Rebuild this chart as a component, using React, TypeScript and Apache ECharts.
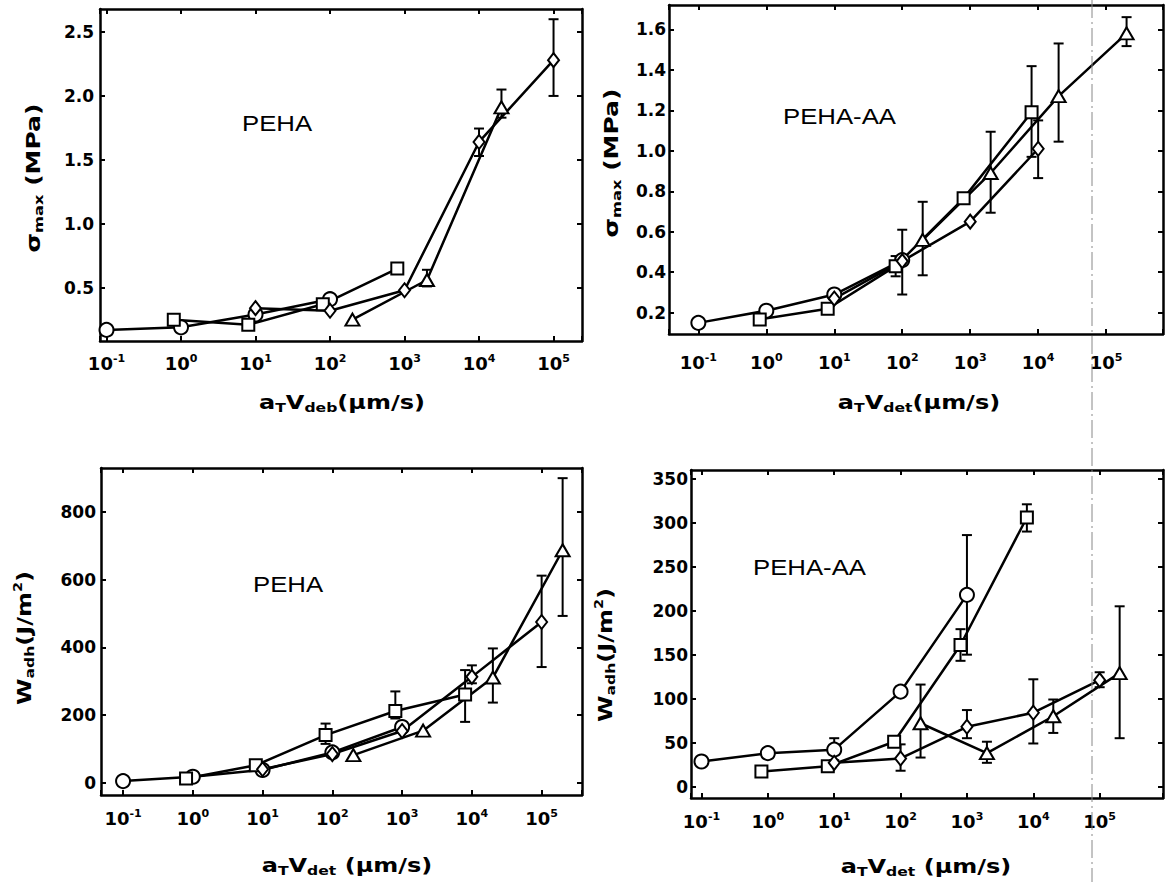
import React, { useEffect, useRef } from 'react';
import * as echarts from 'echarts';

// ---------- Panel 1: PEHA, sigma_max (MPa) ----------
const p1Circle = [[0.1, 0.17], [1, 0.19], [10, 0.29], [100, 0.41]];
const p1Square = [[0.8, 0.25], [8, 0.21], [80, 0.37], [800, 0.65]];
const p1Diamond = [[10, 0.34], [100, 0.32], [1000, 0.48], [10000, 1.64], [100000, 2.28]];
const p1Triangle = [[200, 0.25], [2000, 0.56], [20000, 1.91]];
const p1Err = [[800, 0.62, 0.69], [2000, 0.51, 0.64], [10000, 1.53, 1.745], [20000, 1.83, 2.05], [100000, 2.0, 2.6]];
const p1YTicks = [0.5, 1.0, 1.5, 2.0, 2.5];

// ---------- Panel 2: PEHA-AA, sigma_max (MPa) ----------
const p2Circle = [[0.1, 0.15], [1, 0.21], [10, 0.29], [100, 0.46]];
const p2Square = [[0.8, 0.167], [8, 0.22], [80, 0.43], [800, 0.765], [8000, 1.19]];
const p2Diamond = [[10, 0.27], [100, 0.455], [1000, 0.65], [10000, 1.01]];
const p2Triangle = [[200, 0.56], [2000, 0.89], [20000, 1.27], [200000, 1.58]];
const p2Err = [[100, 0.29, 0.61], [80, 0.38, 0.48], [200, 0.385, 0.748], [2000, 0.694, 1.094], [8000, 0.97, 1.418], [10000, 0.865, 1.15], [20000, 1.045, 1.53], [200000, 1.517, 1.66]];
const p2YTicks = [0.2, 0.4, 0.6, 0.8, 1.0, 1.2, 1.4, 1.6];

// ---------- Panel 3: PEHA, W_adh (J/m2) ----------
const p3Circle = [[0.1, 5], [1, 18], [10, 38], [100, 90], [1000, 165]];
const p3Square = [[0.8, 13], [8, 52], [80, 141], [800, 212], [8000, 261]];
const p3Diamond = [[10, 40], [100, 85], [1000, 153], [10000, 313], [100000, 475]];
const p3Triangle = [[200, 82], [2000, 154], [20000, 311], [200000, 687]];
const p3Err = [[80, 115, 175], [800, 190, 270], [8000, 180, 333], [10000, 294, 347], [20000, 237, 397], [100000, 342, 612], [200000, 493, 900]];
const p3YTicks = [0, 200, 400, 600, 800];

// ---------- Panel 4: PEHA-AA, W_adh (J/m2) ----------
const p4Circle = [[0.1, 28.5], [1, 38], [10, 42], [100, 108], [1000, 218]];
const p4Square = [[0.8, 17], [8, 23], [80, 51], [800, 161], [8000, 306]];
const p4Diamond = [[10, 27], [100, 32], [1000, 68], [10000, 84], [100000, 121]];
const p4Triangle = [[200, 72], [2000, 38], [20000, 80], [200000, 129]];
const p4Err = [[10, 30, 55], [100, 103, 114], [1000, 150, 286], [800, 143, 179], [8000, 290, 321], [100, 18, 48], [1000, 55, 87], [10000, 49, 122], [100000, 113, 130], [200, 33, 116], [2000, 27, 51], [20000, 61, 99], [200000, 55, 205]];
const p4YTicks = [0, 50, 100, 150, 200, 250, 300, 350];

const FONT = 'DejaVu Sans';

const panels = [
  { grid: { left: 100, top: 9, width: 482, height: 332 }, xMin: 0.0818, xMax: 241000, yMin: 0.083, yMax: 2.68, yTicks: p1YTicks, dec: 1, data: [p1Circle, p1Square, p1Diamond, p1Triangle], err: p1Err, xMargin: 12, yMargin: 6 },
  { grid: { left: 669, top: 5, width: 495, height: 329 }, xMin: 0.037, xMax: 687000, yMin: 0.095, yMax: 1.72, yTicks: p2YTicks, dec: 1, data: [p2Circle, p2Square, p2Diamond, p2Triangle], err: p2Err, xMargin: 18, yMargin: 3 },
  { grid: { left: 101, top: 468, width: 481, height: 327 }, xMin: 0.0483, xMax: 379000, yMin: -36, yMax: 930, yTicks: p3YTicks, dec: 0, data: [p3Circle, p3Square, p3Diamond, p3Triangle], err: p3Err, xMargin: 13, yMargin: 5 },
  { grid: { left: 691, top: 470, width: 473, height: 328 }, xMin: 0.0695, xMax: 900000, yMin: -13, yMax: 360, yTicks: p4YTicks, dec: 0, data: [p4Circle, p4Square, p4Diamond, p4Triangle], err: p4Err, xMargin: 13, yMargin: 3 },
];

const symbols: any[] = [
  { symbol: 'circle', size: 14 },
  { symbol: 'rect', size: 12 },
  { symbol: 'diamond', size: [11, 14] },
  { symbol: 'triangle', size: [14, 12] },
];

const logLabel = (v: number) => {
  const e = Math.log10(v);
  const r = Math.round(e);
  if (Math.abs(e - r) > 1e-6) return '';
  return `{b|10}{e|${r}}`;
};

const axisLineStyle = { color: '#000', width: 2.5 };
const tickStyle = { show: true, inside: true, length: 5, lineStyle: { color: '#000', width: 2 } };

export default function App() {
  const ref = useRef<HTMLDivElement>(null);
  useEffect(() => {
    if (!ref.current) return;
    const chart = echarts.init(ref.current, undefined, { renderer: 'svg' });
    const xAxis: any[] = [];
    const yAxis: any[] = [];
    const series: any[] = [];
    panels.forEach((p, i) => {
      xAxis.push({
        gridIndex: i, type: 'log', logBase: 10, min: p.xMin, max: p.xMax, splitNumber: 7,
        axisLine: { show: true, onZero: false, lineStyle: axisLineStyle },
        axisTick: tickStyle, splitLine: { show: false },
        axisLabel: {
          formatter: logLabel, margin: p.xMargin, color: '#000', hideOverlap: false,
          rich: {
            b: { fontFamily: FONT, fontWeight: 'bold', fontSize: 18, lineHeight: 20, color: '#000' },
            e: { fontFamily: FONT, fontWeight: 'bold', fontSize: 11, lineHeight: 11, verticalAlign: 'top', color: '#000' },
          },
        },
      });
      yAxis.push({
        gridIndex: i, type: 'value', min: p.yMin, max: p.yMax,
        axisLine: { show: true, onZero: false, lineStyle: axisLineStyle },
        axisTick: { ...tickStyle, customValues: p.yTicks }, splitLine: { show: false },
        axisLabel: {
          customValues: p.yTicks, margin: p.yMargin, color: '#000',
          fontFamily: FONT, fontWeight: 'bold', fontSize: 17,
          formatter: (v: number) => v.toFixed(p.dec),
        },
      });
    });
    panels.forEach((p, i) => {
      xAxis.push({
        gridIndex: i, type: 'log', logBase: 10, min: p.xMin, max: p.xMax, splitNumber: 7, position: 'top',
        axisLine: { show: true, onZero: false, lineStyle: axisLineStyle },
        axisTick: tickStyle, splitLine: { show: false }, axisLabel: { show: false },
      });
      yAxis.push({
        gridIndex: i, type: 'value', min: p.yMin, max: p.yMax, position: 'right',
        axisLine: { show: true, onZero: false, lineStyle: axisLineStyle },
        axisTick: { ...tickStyle, customValues: p.yTicks }, splitLine: { show: false },
        axisLabel: { show: false },
      });
    });
    panels.forEach((p, i) => {
      series.push({
        type: 'custom', xAxisIndex: i, yAxisIndex: i, z: 1, silent: true,
        data: p.err, encode: { x: 0, y: [1, 2] },
        renderItem: (params: any, api: any) => {
          const x = api.value(0), lo = api.value(1), hi = api.value(2);
          const a = api.coord([x, lo]);
          const b = api.coord([x, hi]);
          const w = 5;
          const style = { stroke: '#000', lineWidth: 2 };
          return {
            type: 'group', children: [
              { type: 'line', shape: { x1: a[0], y1: a[1], x2: b[0], y2: b[1] }, style },
              { type: 'line', shape: { x1: a[0] - w, y1: a[1], x2: a[0] + w, y2: a[1] }, style },
              { type: 'line', shape: { x1: b[0] - w, y1: b[1], x2: b[0] + w, y2: b[1] }, style },
            ],
          };
        },
      });
      p.data.forEach((d, k) => {
        series.push({
          type: 'line', xAxisIndex: i, yAxisIndex: i, z: 3, data: d,
          symbol: symbols[k].symbol, symbolSize: symbols[k].size, showAllSymbol: true,
          lineStyle: { color: '#000', width: 2.5 },
          itemStyle: { color: '#fff', borderColor: '#000', borderWidth: 2 },
          emphasis: { disabled: true }, silent: true,
        });
      });
    });

    const nameRich = {
      n: { fontFamily: FONT, fontWeight: 'bold', fontSize: 20, lineHeight: 24, fill: '#000' },
      s: { fontFamily: FONT, fontWeight: 'bold', fontSize: 13, lineHeight: 10, verticalAlign: 'bottom', fill: '#000' },
      p: { fontFamily: FONT, fontWeight: 'bold', fontSize: 12, lineHeight: 10, verticalAlign: 'top', fill: '#000' },
    };
    const txt = (x: number, y: number, text: string, rot = 0, sx = 1.2) => ({
      type: 'text', x, y, rotation: rot, scaleX: sx, z: 50,
      style: { text, rich: nameRich, textAlign: 'center', textVerticalAlign: 'middle', fill: '#000', font: `bold 20px ${FONT}` },
    });
    const ann = (x: number, y: number, text: string) => ({
      type: 'text', x, y, scaleX: 1.12, z: 50,
      style: { text, fill: '#000', font: '23px "Liberation Sans"', textAlign: 'left', textVerticalAlign: 'middle' },
    });
    const sigma = '{n|σ}{s|max}{n| (MPa)}';
    const wadh = '{n|W}{s|adh}{n|(J/m}{p|2}{n|)}';

    chart.setOption({
      animation: false,
      backgroundColor: '#fff',
      grid: panels.map((p) => ({ ...p.grid, containLabel: false })),
      xAxis, yAxis, series,
      graphic: [
        ann(242, 123, 'PEHA'),
        ann(783, 116, 'PEHA-AA'),
        ann(253, 584, 'PEHA'),
        ann(753, 567, 'PEHA-AA'),
        txt(33, 178, sigma, Math.PI / 2, 1.25),
        txt(611, 163, sigma, Math.PI / 2, 1.25),
        txt(24, 638, wadh, Math.PI / 2, 1.2),
        txt(605, 655, wadh, Math.PI / 2, 1.2),
        txt(342, 402, '{n|a}{s|T}{n|V}{s|deb}{n|(µm/s)}'),
        txt(919, 402, '{n|a}{s|T}{n|V}{s|det}{n|(µm/s)}'),
        txt(347, 865, '{n|a}{s|T}{n|V}{s|det}{n| (µm/s)}'),
        txt(926, 866, '{n|a}{s|T}{n|V}{s|det}{n| (µm/s)}'),
        { type: 'line', z: 40, shape: { x1: 1092, y1: 0, x2: 1092, y2: 882 }, style: { stroke: '#888', lineWidth: 1, lineDash: [18, 4, 2, 4] } },
      ],
    });
    return () => chart.dispose();
  }, []);
  return <div ref={ref} style={{ position: 'absolute', left: 0, top: 0, width: 1166, height: 882 }} />;
}
